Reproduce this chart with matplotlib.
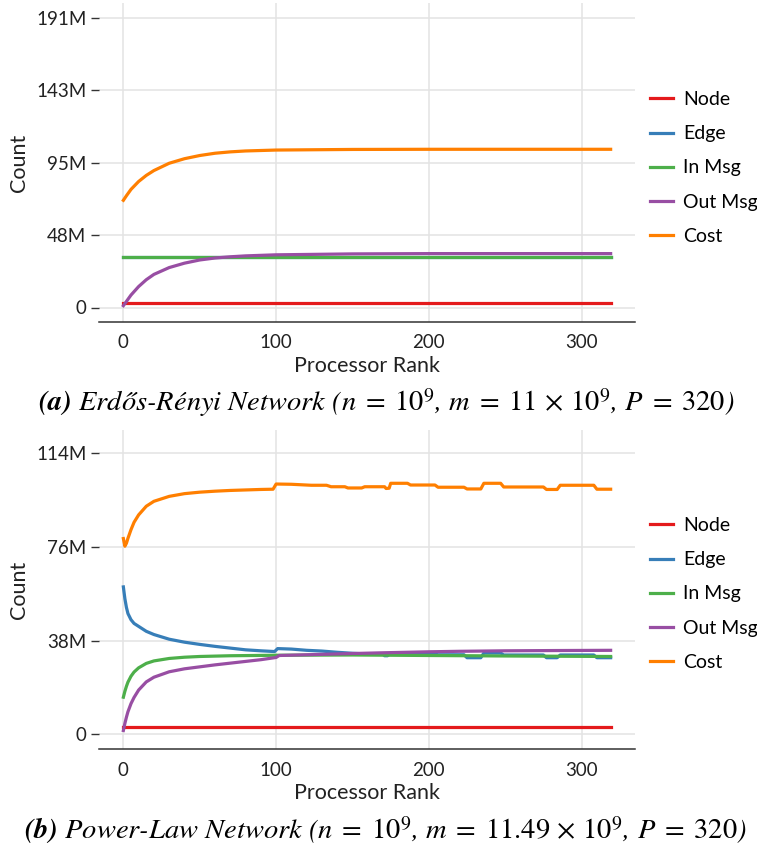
import matplotlib
matplotlib.use("Agg")
import matplotlib.pyplot as plt

plt.rcParams['font.family'] = ['Lato', 'DejaVu Sans']
plt.rcParams['mathtext.fontset'] = 'custom'
plt.rcParams['mathtext.rm'] = 'STIXGeneral'
plt.rcParams['mathtext.it'] = 'STIXGeneral:italic'
plt.rcParams['mathtext.bf'] = 'STIXGeneral:italic:bold'

series_names = ["Node", "Edge", "In Msg", "Out Msg", "Cost"]
colors = ["#e41a1c", "#377eb8", "#4daf4a", "#984ea3", "#ff7f00"]

# ---- (a) Erdos-Renyi (values in millions) ----
er_rank = [0, 2, 5, 10, 15, 20, 30, 40, 50, 60, 70, 80, 100, 150, 200, 250, 319]
er_node = [3.1, 3.1, 3.1, 3.1, 3.1, 3.1, 3.1, 3.1, 3.1, 3.1, 3.1, 3.1, 3.1, 3.1, 3.1, 3.1, 3.1]
er_edge = [33.5, 33.5, 33.5, 33.5, 33.5, 33.5, 33.5, 33.5, 33.5, 33.5, 33.5, 33.5, 33.5, 33.5, 33.5, 33.5, 33.5]
er_inmsg = [33.5, 33.5, 33.5, 33.5, 33.5, 33.5, 33.5, 33.5, 33.5, 33.5, 33.5, 33.5, 33.5, 33.5, 33.5, 33.5, 33.5]
er_outmsg = [1.2, 4.0, 8.2, 13.8, 18.3, 21.8, 26.3, 29.2, 31.3, 32.6, 33.4, 34.0, 34.7, 35.3, 35.5, 35.5, 35.5]
er_cost = [70.6, 73.6, 77.8, 83.0, 87.0, 90.2, 95.0, 98.0, 100.1, 101.6, 102.5, 103.1, 103.7, 104.1, 104.2, 104.2, 104.2]
er_yticks = [0, 47.75, 95.5, 143.25, 191]
er_yticklabels = ["0", "48M", "95M", "143M", "191M"]

# ---- (b) Power-law (values in millions) ----
pl_node_rank = [0, 319]
pl_node = [3.1, 3.1]
pl_edge_rank = [0, 1, 2, 3, 5, 7, 10, 15, 20, 30, 40, 50, 60, 70, 80, 90, 99, 101, 110, 120,
                130, 140, 150, 160, 170, 171, 173, 175, 186, 188, 204, 206, 223, 225, 234, 236,
                247, 249, 275, 277, 284, 286, 308, 310, 319]
pl_edge = [59.8, 55.0, 51.5, 49.0, 46.5, 45.0, 43.8, 41.8, 40.5, 38.6, 37.4, 36.5, 35.7, 35.0,
           34.3, 33.9, 33.6, 34.8, 34.6, 34.1, 33.8, 33.3, 32.9, 32.6, 32.5, 31.9, 31.9, 33.0,
           33.0, 32.6, 32.6, 32.3, 32.3, 31.1, 31.1, 33.0, 33.0, 32.2, 32.2, 31.1, 31.1, 32.2,
           32.2, 31.1, 31.1]
pl_in_rank = [0, 1, 2, 3, 5, 7, 10, 15, 20, 30, 40, 50, 70, 100, 150, 200, 250, 319]
pl_inmsg = [15.1, 17.5, 19.5, 21.2, 23.6, 25.3, 27.0, 28.8, 29.8, 30.8, 31.3, 31.6, 31.9, 32.1,
            32.2, 32.0, 31.8, 31.6]
pl_out_rank = [0, 1, 2, 3, 5, 7, 10, 15, 20, 30, 40, 50, 60, 70, 80, 90, 100, 102, 120, 150,
               170, 200, 220, 250, 280, 319]
pl_outmsg = [1.6, 4.5, 7.0, 9.2, 12.5, 15.0, 18.0, 21.3, 23.2, 25.4, 26.6, 27.4, 28.2, 28.9,
             29.6, 30.3, 31.2, 32.0, 32.3, 32.8, 33.1, 33.5, 33.7, 33.9, 34.0, 34.1]
pl_cost_rank = [0, 1, 2, 3, 5, 7, 10, 15, 20, 30, 40, 50, 60, 70, 80, 90, 98, 100, 110, 123,
                133, 136, 145, 147, 156, 158, 171, 172, 174, 175, 186, 188, 204, 206, 223, 225,
                234, 236, 247, 249, 275, 277, 284, 286, 308, 310, 319]
pl_cost = [79.4, 76.3, 77.5, 79.5, 83.0, 86.0, 89.0, 92.5, 94.5, 96.5, 97.6, 98.2, 98.6, 98.9,
           99.1, 99.3, 99.4, 101.5, 101.4, 101.0, 101.0, 100.4, 100.4, 99.9, 99.9, 100.4, 100.4,
           99.7, 99.8, 101.8, 101.8, 101.1, 101.1, 100.2, 100.2, 99.5, 99.5, 101.8, 101.8, 100.3,
           100.3, 99.3, 99.3, 101.0, 101.0, 99.4, 99.4]
pl_yticks = [0, 38, 76, 114]
pl_yticklabels = ["0", "38M", "76M", "114M"]

xticks = [0, 100, 200, 300]

W, H = 757, 848
fig = plt.figure(figsize=(W / 100, H / 100), dpi=100)


def style_axes(ax, yticks, yticklabels, ylim):
    ax.set_xlim(-15.95, 334.95)
    ax.set_ylim(*ylim)
    ax.set_xticks(xticks)
    ax.set_yticks(yticks)
    ax.set_yticklabels(yticklabels)
    for s in ["top", "right", "left"]:
        ax.spines[s].set_visible(False)
    ax.spines["bottom"].set_color("#333333")
    ax.spines["bottom"].set_linewidth(1.1)
    ax.grid(True, color="#e3e3e3", linewidth=1.1)
    ax.set_axisbelow(True)
    ax.tick_params(axis="x", length=0, pad=9, labelsize=13.5, labelcolor="#222222")
    ax.tick_params(axis="y", length=5.5, width=1.0, color="#333333", pad=3.5,
                   labelsize=13.5, labelcolor="#222222")
    ax.set_xlabel("Processor Rank", fontsize=15.5, color="#222222", labelpad=3)
    ax.set_ylabel("Count", fontsize=15.5, color="#222222", labelpad=5)


def add_legend(ax, ycenter_px):
    ax.legend(loc="center left", bbox_to_anchor=(650 / W, 1 - ycenter_px / H),
              bbox_transform=fig.transFigure, frameon=False, fontsize=14,
              handlelength=1.2, handletextpad=0.5, labelspacing=0.88,
              borderpad=0, borderaxespad=0)


# top axes
ax1 = fig.add_axes([99 / W, 1 - 322 / H, (635 - 99) / W, (322 - 3) / H])
ax1.plot(er_rank, er_node, color=colors[0], lw=2.3, label=series_names[0])
ax1.plot(er_rank, er_edge, color=colors[1], lw=2.3, label=series_names[1])
ax1.plot(er_rank, er_inmsg, color=colors[2], lw=2.3, label=series_names[2])
ax1.plot(er_rank, er_outmsg, color=colors[3], lw=2.3, label=series_names[3])
ax1.plot(er_rank, er_cost, color=colors[4], lw=2.3, label=series_names[4])
style_axes(ax1, er_yticks, er_yticklabels, (-9.55, 200.55))
add_legend(ax1, 168)

# bottom axes
ax2 = fig.add_axes([99 / W, 1 - 749 / H, (635 - 99) / W, (749 - 430) / H])
ax2.plot(pl_node_rank, pl_node, color=colors[0], lw=2.3, label=series_names[0])
ax2.plot(pl_edge_rank, pl_edge, color=colors[1], lw=2.3, label=series_names[1])
ax2.plot(pl_in_rank, pl_inmsg, color=colors[2], lw=2.3, label=series_names[2])
ax2.plot(pl_out_rank, pl_outmsg, color=colors[3], lw=2.3, label=series_names[3])
ax2.plot(pl_cost_rank, pl_cost, color=colors[4], lw=2.3, label=series_names[4])
style_axes(ax2, pl_yticks, pl_yticklabels, (-5.9, 123.4))
add_legend(ax2, 594)

cap_kw = dict(ha="center", va="center", fontsize=20.5, family="STIXGeneral",
              style="italic", color="black")
fig.text(386.5 / W, 1 - 403 / H,
         r"$\mathbf{(a)}$ Erdős-Rényi Network ($n\;=\;10^{9}$, $m\;=\;11\,\times\,10^{9}$, $P\;=\;320$)",
         **cap_kw)
fig.text(385 / W, 1 - 830 / H,
         r"$\mathbf{(b)}$ Power-Law Network ($n\;=\;10^{9}$, $m\;=\;11.49\,\times\,10^{9}$, $P\;=\;320$)",
         **cap_kw)

fig.savefig("out.png", dpi=100)
